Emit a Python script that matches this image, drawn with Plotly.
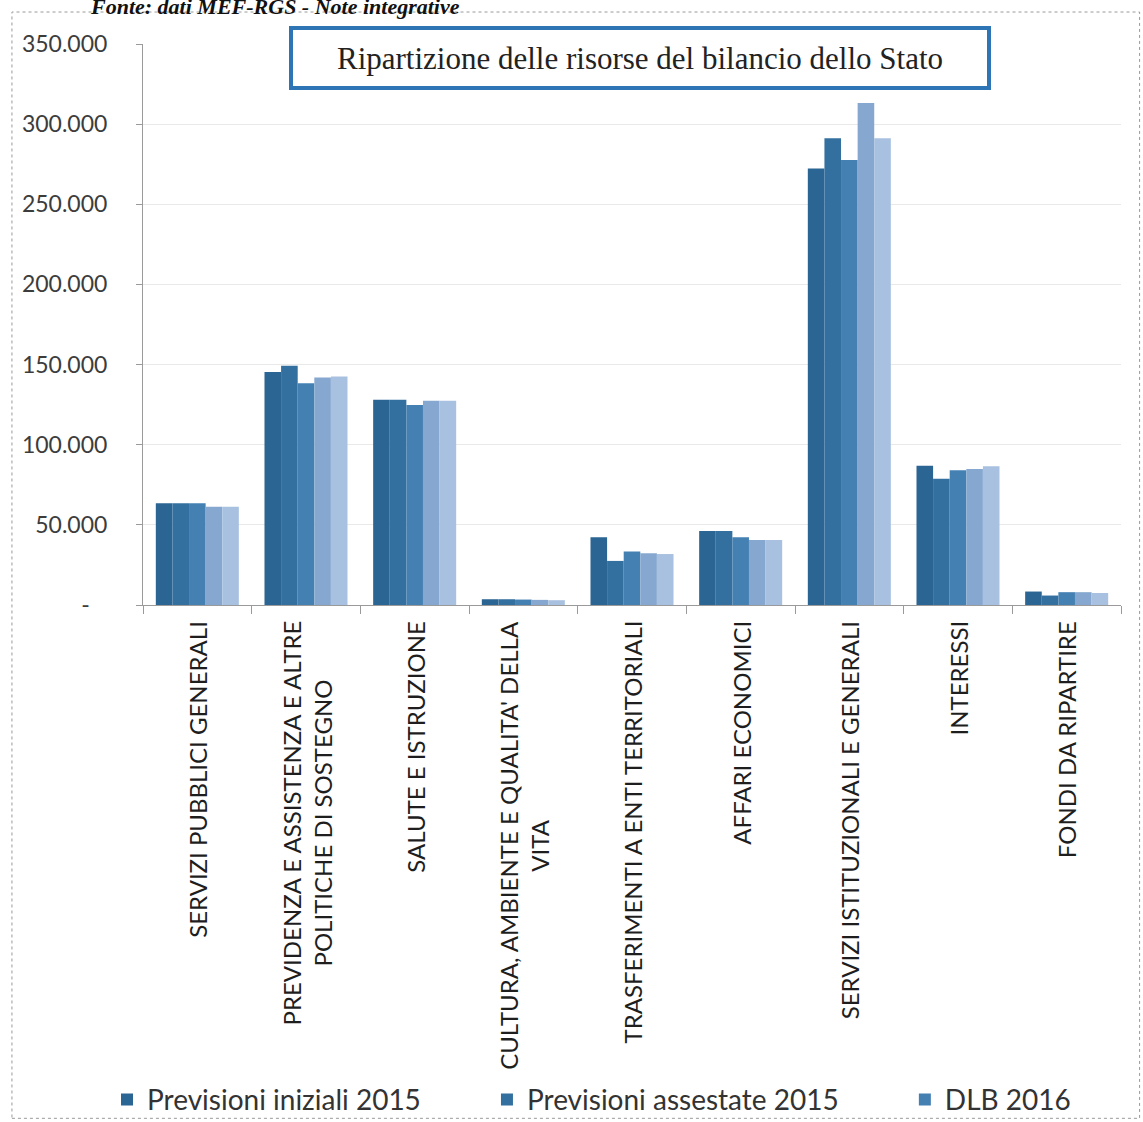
import plotly.graph_objects as go

categories = [
    "SERVIZI PUBBLICI GENERALI",
    "PREVIDENZA E ASSISTENZA E ALTRE<br>POLITICHE DI SOSTEGNO",
    "SALUTE E ISTRUZIONE",
    "CULTURA, AMBIENTE E QUALITA' DELLA<br>VITA",
    "TRASFERIMENTI A ENTI TERRITORIALI",
    "AFFARI ECONOMICI",
    "SERVIZI ISTITUZIONALI E GENERALI",
    "INTERESSI",
    "FONDI DA RIPARTIRE",
]

series_names = ["Previsioni iniziali 2015", "Previsioni assestate 2015", "DLB 2016", "DLB 2017", "DLB 2018"]
series_legend = ["legend", "legend2", "legend3", None, None]

s1 = [63500, 145300, 128000, 3600, 42300, 46200, 272400, 86900, 8400]
s2 = [63500, 149200, 128000, 3600, 27500, 46200, 291200, 78700, 5900]
s3 = [63500, 138400, 124800, 3400, 33300, 42300, 277600, 84000, 8000]
s4 = [61300, 141900, 127500, 3200, 32300, 40600, 313200, 84800, 8000]
s5 = [61300, 142500, 127500, 3000, 31800, 40600, 291200, 86500, 7500]
series_values = [s1, s2, s3, s4, s5]

colors = ["#2B6593", "#33709F", "#4580B3", "#86A8D0", "#A9C1E0"]

y_tickvals = [0, 50000, 100000, 150000, 200000, 250000, 300000, 350000]
y_ticktext = ["-\u00a0\u00a0\u00a0", "50.000", "100.000", "150.000", "200.000", "250.000", "300.000", "350.000"]

title_text = "Ripartizione delle risorse del bilancio dello Stato"
source_text = "Fonte: dati MEF-RGS - Note integrative"

fig = go.Figure()
for name, vals, col, leg in zip(series_names, series_values, colors, series_legend):
    kw = dict(legend=leg, showlegend=True) if leg else dict(showlegend=False)
    fig.add_trace(go.Bar(
        x=categories, y=vals, name=name,
        marker=dict(color=col, line=dict(width=0)), **kw,
    ))

# Category labels as rotated, centred annotations
for cat in categories:
    fig.add_annotation(
        x=cat, xref="x", y=0, yref="paper",
        text=cat, showarrow=False, textangle=-90,
        xanchor="center", yanchor="top", yshift=-14, align="center",
        font=dict(family="Lato, Open Sans, sans-serif", size=24, color="#1e1e1e"),
    )

fig.add_annotation(
    x=0.508, y=0.975, xref="paper", yref="paper",
    text=title_text, showarrow=False, xanchor="center", yanchor="middle",
    font=dict(family="Liberation Serif, Times New Roman, serif", size=31, color="#222222"),
    bordercolor="#2E75B6", borderwidth=4, borderpad=2, bgcolor="white",
    width=690, height=52,
)

fig.add_annotation(
    x=-0.0562, y=1.066, xref="paper", yref="paper",
    text="<b><i>" + source_text + "</i></b>", showarrow=False,
    xanchor="left", yanchor="middle",
    font=dict(family="Liberation Serif, Times New Roman, serif", size=22, color="#111111"),
)

fig.add_shape(
    type="rect", xref="paper", yref="paper",
    x0=-0.134, x1=1.019, y0=-0.915, y1=1.057,
    line=dict(color="#9a9a9a", width=1, dash="dot"), layer="below",
)

legend_font = dict(family="Lato, Open Sans, sans-serif", size=28, color="#333333")
legend_common = dict(orientation="h", xanchor="left", y=-0.882, yanchor="middle",
                     font=legend_font, bgcolor="rgba(0,0,0,0)", itemclick=False)

fig.update_layout(
    width=1143, height=1122,
    margin=dict(l=143, r=22, t=44, b=517, autoexpand=False),
    paper_bgcolor="white", plot_bgcolor="white",
    barmode="group", bargap=0.236, bargroupgap=0,
    font=dict(family="Lato, Open Sans, sans-serif", color="#333333"),
    legend=dict(x=-0.0368, **legend_common),
    legend2=dict(x=0.3517, **legend_common),
    legend3=dict(x=0.779, **legend_common),
    xaxis=dict(
        type="category", showticklabels=False, showgrid=False,
        showline=True, linecolor="#9a9a9a", linewidth=1,
        ticks="outside", tickson="boundaries", ticklen=8, tickcolor="#9a9a9a",
    ),
    yaxis=dict(
        range=[0, 350000], tickvals=y_tickvals, ticktext=y_ticktext,
        showgrid=True, gridcolor="#e9e9e9", gridwidth=1, zeroline=False,
        showline=True, linecolor="#9a9a9a", linewidth=1,
        ticks="outside", ticklen=6, tickcolor="#9a9a9a",
        ticklabelstandoff=24,
        tickfont=dict(family="Lato, Open Sans, sans-serif", size=23, color="#3c3c3c"),
    ),
)

fig.write_html("out.html", config={"displayModeBar": False},
               post_script="document.body.style.margin='0';")
